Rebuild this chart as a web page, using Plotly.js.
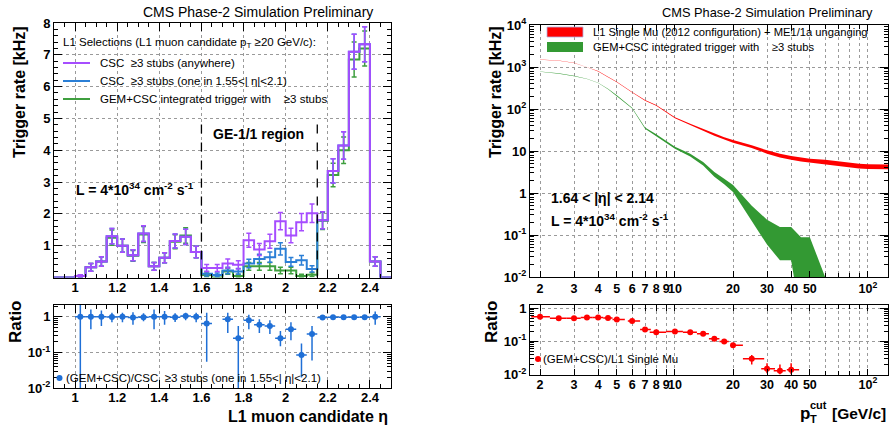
<!DOCTYPE html>
<html><head><meta charset="utf-8">
<script src="https://cdn.plot.ly/plotly-3.0.1.min.js"></script>
<style>html,body{margin:0;padding:0;background:#fff;}#chart{width:893px;height:427px;}</style>
</head><body><div id="chart"></div>
<script>
// ---------------- Left panel: rate vs L1 muon candidate eta (0.05 bins) ----------------
const etaEdges = [0.90,0.95,1.00,1.05,1.10,1.15,1.20,1.25,1.30,1.35,1.40,1.45,1.50,1.55,1.60,1.65,1.70,1.75,1.80,1.85,1.90,1.95,2.00,2.05,2.10,2.15,2.20,2.25,2.30,2.35,2.40,2.45,2.50];
const cscAny    = [0,0,0.05,0.32,0.50,1.30,1.00,0.70,1.38,0.35,0.62,1.15,1.28,0.80,0.30,0.30,0.44,0.40,1.17,0.88,1.14,1.77,1.32,1.74,2.02,1.80,3.35,4.15,7.10,7.33,0.50,0];
const cscAnyErr = [null,null,0.04,0.12,0.15,0.24,0.21,0.17,0.25,0.12,0.16,0.22,0.24,0.18,0.11,0.11,0.14,0.13,0.22,0.19,0.22,0.27,0.23,0.27,0.29,0.27,0.38,0.43,0.55,0.55,0.15,null];
const cscRegion    = [0,0,0.05,0.32,0.50,1.30,1.00,0.70,1.38,0.35,0.62,1.15,1.28,0.80,0.12,0.08,0.22,0.19,0.44,0.58,0.64,0.90,0.49,0.54,0.27,1.80,3.35,4.15,7.10,7.33,0.50,0];
const cscRegionErr = [null,null,0.04,0.12,0.15,0.24,0.21,0.17,0.25,0.12,0.16,0.22,0.24,0.18,0.07,0.06,0.10,0.09,0.13,0.15,0.16,0.19,0.14,0.15,0.10,0.27,0.38,0.43,0.55,0.55,0.15,null];
const gemCsc    = [0,0,0.05,0.32,0.50,1.25,1.00,0.68,1.35,0.35,0.62,1.12,1.32,0.80,0.08,0,0.19,0.05,0.35,0.35,0.35,0.22,0.22,0.05,0.09,1.78,3.22,4.00,6.85,7.20,0.50,0];
const gemCscErr = [null,null,0.04,0.12,0.15,0.24,0.21,0.17,0.25,0.12,0.16,0.22,0.24,0.18,0.06,null,0.09,0.05,0.12,0.12,0.12,0.10,0.10,0.05,0.06,0.27,0.37,0.42,0.55,0.55,0.15,null];
const etaRatio   = [null,null,1.00,1.00,1.00,0.98,1.00,0.95,0.97,1.00,1.00,0.97,1.05,1.00,0.65,null,0.85,0.25,0.80,0.60,0.55,0.25,0.45,0.085,0.33,0.95,0.97,0.97,0.97,0.97,1.00,null];
const etaRatioLo = [null,null,0.001,0.45,0.55,0.70,0.70,0.60,0.75,0.45,0.60,0.72,0.80,0.70,0.055,null,0.35,0.001,0.45,0.35,0.33,0.15,0.22,0.02,0.06,0.85,0.90,0.90,0.92,0.92,0.60,null];
const etaRatioHi = [null,null,2.2,1.6,1.5,1.3,1.3,1.35,1.25,1.6,1.45,1.25,1.3,1.3,1.3,null,1.3,0.55,1.15,0.85,0.80,0.40,0.70,0.18,0.55,1.10,1.05,1.05,1.03,1.03,1.40,null];
const geRegion = [1.6, 2.15];
const etaTickVals = [1,1.2,1.4,1.6,1.8,2,2.2,2.4];

// ---------------- Right panel: rate vs pT cut ----------------
const ptCut    = [2,2.5,3,3.5,4,4.5,5,6,7,8,10,12,14,16,18,20,25,30,35,40,45,50,60,70,80,90,100,120,140];
const rateL1   = [1500,1420,1250,1000,790,580,440,250,160,122,62,43,32,24.5,20,17,12.8,9.5,7.8,6.9,6.3,5.9,5.5,5.0,4.7,4.4,4.3,4.2,4.2];
const rateL1Err= [12,11,10,9,8,7,6,4,3.2,3.0,2.0,1.7,1.5,1.4,1.3,1.2,1.0,0.85,0.75,0.7,0.7,0.65,0.65,0.6,0.6,0.55,0.55,0.55,0.55];
const ptCutGem   = [2,2.5,3,3.5,4,4.5,5,6,7,8,10,12,14,16,18,20,25,30,35,40,45,50,60];
const rateGem    = [780,700,610,520,420,300,210,105,35,24,12,8,5,2.8,1.9,1.3,0.36,0.145,0.09,0.09,0.045,0.045,0.005];
const rateGemErr = [6,6,5,5,4.5,4,3.5,2.5,1.3,1.0,0.7,0.6,0.5,0.35,0.28,0.25,0.14,0.086,0.065,0.065,0.044,0.044,0.005];
const ptRatio      = [2,2.5,3,3.5,4,4.5,5,6,7,8,10,12,14,16,18,20,25,30,35,40];
const ratioPt      = [0.56,0.50,0.50,0.53,0.53,0.51,0.46,0.41,0.23,0.19,0.20,0.19,0.17,0.12,0.10,0.076,0.030,0.015,0.013,0.014];
const ratioPtErrUp = [0.03,0.02,0.02,0.02,0.02,0.02,0.02,0.02,0.015,0.012,0.015,0.012,0.012,0.012,0.01,0.01,0.009,0.007,0.007,0.008];
const ratioPtErrDn = [0.03,0.02,0.02,0.02,0.02,0.02,0.02,0.02,0.015,0.012,0.015,0.012,0.012,0.012,0.01,0.01,0.010,0.004,0.003,0.004];
const ratioPtXLo   = [0.2,0.25,0.25,0.25,0.25,0.25,0.25,0.3,0.4,0.6,1,1,1,1,1,0.5,2.5,2,2.5,2];
const ratioPtXHi   = [0.25,0.25,0.25,0.25,0.25,0.25,0.5,0.6,0.5,1,1,1,1,1,1,2.5,4,3,2.5,4];
const ptTickVals = [2,3,4,5,6,7,8,9,10,20,30,40,50,100];
const ptTickText = ['2','3','4','5','6','7','8','9','10','20','30','40','50','10<sup>2</sup>'];

// ---------------- styling helpers ----------------
const FONT = 'Liberation Sans, Arial, Helvetica, sans-serif';
const W = 893, H = 427;
const px = x => x / W, py = y => 1 - y / H;
const PURPLE = '#a64dff', BLUE = '#2b7fd6', GREEN = '#3f9f3f', RED = '#ff0000', BANDGREEN = '#339933';

const etaCenters = etaEdges.slice(0, -1).map((e, i) => (e + etaEdges[i + 1]) / 2);
const logMinor = (lo, hi) => { const v = []; for (let k = lo; k <= hi; k++) for (let m = 2; m <= 9; m++) v.push(m * Math.pow(10, k)); return v; };

function ax(extra) {
  return Object.assign({
    showline: true, linecolor: '#000', linewidth: 1, mirror: 'allticks',
    ticks: 'inside', ticklen: 8, tickcolor: '#000', tickwidth: 1, zeroline: false, tickangle: 0,
    showgrid: true, gridcolor: '#9a9a9a', griddash: 'dot', gridwidth: 1,
    tickfont: { family: FONT, size: 13, color: '#000', weight: 'bold' }
  }, extra);
}

const traces = [];
function stepHist(vals, errs, color) {
  traces.push({ x: etaEdges, y: vals.concat([vals[vals.length - 1]]), mode: 'lines',
    line: { shape: 'hv', color: color, width: 2 }, xaxis: 'x', yaxis: 'y', hoverinfo: 'skip' });
  traces.push({ x: etaCenters, y: vals.map(v => v > 0 ? v : null), mode: 'markers',
    marker: { size: 2, color: color },
    error_y: { type: 'data', array: errs, color: color, thickness: 1.5, width: 2.5 },
    xaxis: 'x', yaxis: 'y', hoverinfo: 'skip' });
}
stepHist(gemCsc, gemCscErr, GREEN);
stepHist(cscRegion, cscRegionErr, BLUE);
stepHist(cscAny, cscAnyErr, PURPLE);

// left ratio
traces.push({ x: etaCenters, y: etaRatio, mode: 'markers', xaxis: 'x2', yaxis: 'y2',
  marker: { size: 6, color: '#1f6fd6' },
  error_x: { type: 'constant', value: 0.025, color: '#1f6fd6', thickness: 1.5, width: 0 },
  error_y: { type: 'data', symmetric: false,
    array: etaRatio.map((v, i) => v == null ? null : etaRatioHi[i] - v),
    arrayminus: etaRatio.map((v, i) => v == null ? null : v - etaRatioLo[i]),
    color: '#1f6fd6', thickness: 1.5, width: 0 }, hoverinfo: 'skip' });

// right bands
function band(xs, vals, errs, color) {
  const up = vals.map((v, i) => v + errs[i]);
  const dn = vals.map((v, i) => Math.max(v - errs[i], 1e-4));
  traces.push({ x: xs.concat(xs.slice().reverse()), y: up.concat(dn.slice().reverse()),
    mode: 'lines', fill: 'toself', fillcolor: color, line: { width: 0, color: color },
    xaxis: 'x3', yaxis: 'y3', hoverinfo: 'skip' });
}
band(ptCut, rateL1, rateL1Err, RED);
band(ptCutGem, rateGem, rateGemErr, BANDGREEN);

// right ratio
traces.push({ x: ptRatio, y: ratioPt, mode: 'markers', xaxis: 'x4', yaxis: 'y4',
  marker: { size: 6, color: RED },
  error_x: { type: 'data', symmetric: false, array: ratioPtXHi, arrayminus: ratioPtXLo, color: RED, thickness: 1.5, width: 0 },
  error_y: { type: 'data', symmetric: false, array: ratioPtErrUp, arrayminus: ratioPtErrDn, color: RED, thickness: 1.5, width: 0 },
  hoverinfo: 'skip' });

const minorLin = (dt) => ({ dtick: dt, tick0: 0, ticks: 'inside', ticklen: 4, tickcolor: '#000', showgrid: false });
const xL = [px(54), px(391)], xR = [px(530), px(888)];
const ptFont = { family: FONT, size: 12.5, color: '#000', weight: 'bold' };

const layout = {
  width: W, height: H, margin: { l: 0, r: 0, t: 0, b: 0 },
  paper_bgcolor: '#fff', plot_bgcolor: '#fff', showlegend: false,
  font: { family: FONT, color: '#000' },
  xaxis: ax({ domain: xL, range: [0.9, 2.5], anchor: 'y', tickvals: etaTickVals, minor: minorLin(0.05), ticklabelstandoff: -2 }),
  yaxis: ax({ domain: [py(277.5), py(23)], range: [0, 8], anchor: 'x', tickvals: [1,2,3,4,5,6,7,8], minor: minorLin(0.2) }),
  xaxis2: ax({ domain: xL, range: [0.9, 2.5], anchor: 'y2', tickvals: etaTickVals, minor: minorLin(0.05), ticklabelstandoff: -3 }),
  yaxis2: ax({ domain: [py(388.3), py(305)], type: 'log', range: [-2, 0.33], anchor: 'x2',
    tickvals: [0.01, 0.1, 1], ticktext: ['10<sup>-2</sup>', '10<sup>-1</sup>', '1'],
    minor: { tickvals: logMinor(-2, 0), ticks: 'inside', ticklen: 4, tickcolor: '#000', showgrid: false } }),
  xaxis3: ax({ domain: xR, type: 'log', range: [0.249, 2.104], anchor: 'y3', tickvals: ptTickVals, ticktext: ptTickText, ticklen: 6, tickfont: ptFont,
    minor: { tickvals: [60,70,80,90], ticks: 'inside', ticklen: 4, tickcolor: '#000', showgrid: true, gridcolor: '#9a9a9a', griddash: 'dot' } }),
  yaxis3: ax({ domain: [py(277), py(25)], type: 'log', range: [-2, 4], anchor: 'x3',
    tickvals: [0.01, 0.1, 1, 10, 100, 1000, 10000],
    ticktext: ['10<sup>-2</sup>', '10<sup>-1</sup>', '1', '10', '10<sup>2</sup>', '10<sup>3</sup>', '10<sup>4</sup>'],
    minor: { tickvals: logMinor(-2, 3), ticks: 'inside', ticklen: 4, tickcolor: '#000', showgrid: false } }),
  xaxis4: ax({ domain: xR, type: 'log', range: [0.249, 2.104], anchor: 'y4', tickvals: ptTickVals, ticktext: ptTickText, ticklen: 6, tickfont: ptFont, ticklabelstandoff: -2,
    minor: { tickvals: [60,70,80,90], ticks: 'inside', ticklen: 4, tickcolor: '#000', showgrid: true, gridcolor: '#9a9a9a', griddash: 'dot' } }),
  yaxis4: ax({ domain: [py(374.5), py(305)], type: 'log', range: [-2, 0.1], anchor: 'x4',
    tickvals: [0.01, 0.1, 1], ticktext: ['10<sup>-2</sup>', '10<sup>-1</sup>', '1'],
    minor: { tickvals: logMinor(-2, 0), ticks: 'inside', ticklen: 4, tickcolor: '#000', showgrid: false } }),
  shapes: [], annotations: []
};

// GE-1/1 region boundaries
geRegion.forEach(e => layout.shapes.push({ type: 'line', xref: 'x', yref: 'y', x0: e, x1: e, y0: 0, y1: 5,
  line: { color: '#000', width: 1.3, dash: 'dash' } }));

const A = (text, x, y, opt) => layout.annotations.push(Object.assign({
  text: text, xref: 'paper', yref: 'paper', x: px(x), y: py(y), showarrow: false,
  xanchor: 'left', yanchor: 'middle', font: { family: FONT, size: 11.5, color: '#000' }
}, opt || {}));
const bold = (s) => ({ family: FONT, size: s, color: '#000', weight: 'bold' });

// left panel texts
A('CMS Phase-2 Simulation Preliminary', 375, 12, { xanchor: 'right', font: { family: FONT, size: 14, color: '#000' } });
A('L1 Selections (L1 muon candidate p<sub>T</sub> \u226520 GeV/c):', 61, 43);
const legL = [['CSC \u00a0\u22653 stubs (anywhere)', PURPLE, 63], ['CSC \u00a0\u22653 stubs (one in 1.55<| \u03b7|<2.1)', BLUE, 81], ['GEM+CSC integrated trigger with \u00a0\u00a0\u00a0\u22653 stubs', GREEN, 99]];
legL.forEach(([t, c, y]) => {
  A(t, 98, y);
  layout.shapes.push({ type: 'line', xref: 'paper', yref: 'paper', x0: px(63), x1: px(90), y0: py(y), y1: py(y), line: { color: c, width: 2 } });
});
A('GE-1/1 region', 258, 134, { xanchor: 'center', font: bold(14) });
A('L = 4*10<sup>34</sup> cm<sup>-2</sup> s<sup>-1</sup>', 74, 189, { font: bold(14) });
A('Trigger rate [kHz]', 19, 92, { xanchor: 'center', textangle: -90, font: bold(16) });
A('Ratio', 15, 322, { xanchor: 'center', textangle: -90, font: bold(17) });
A('L1 muon candidate \u03b7', 390, 416, { xanchor: 'right', font: bold(16) });
A('(GEM+CSC)/CSC \u00a0\u22653 stubs (one in 1.55<| \u03b7|<2.1)', 64, 378);
layout.shapes.push({ type: 'circle', xref: 'paper', yref: 'paper', x0: px(56.5), x1: px(62.5), y0: py(375), y1: py(381), fillcolor: '#1f6fd6', line: { width: 0 } });

// right panel texts
A('CMS Phase-2 Simulation Preliminary', 875, 12, { xanchor: 'right', font: { family: FONT, size: 12.8, color: '#000' } });
layout.shapes.push({ type: 'rect', xref: 'paper', yref: 'paper', x0: px(547), x1: px(583), y0: py(37), y1: py(27), fillcolor: RED, line: { color: '#b0b0e0', width: 0.8 } });
layout.shapes.push({ type: 'rect', xref: 'paper', yref: 'paper', x0: px(547), x1: px(583), y0: py(52), y1: py(42), fillcolor: BANDGREEN, line: { width: 0 } });
A('L1 Single Mu (2012 configuration) + ME1/1a unganging', 591, 32, { font: { family: FONT, size: 11.2, color: '#000' } });
A('GEM+CSC integrated trigger with \u00a0\u00a0\u00a0\u22653 stubs', 591, 47, { font: { family: FONT, size: 11.2, color: '#000' } });
A('1.64 < |\u03b7| < 2.14', 549, 198, { font: bold(14) });
A('L = 4*10<sup>34</sup> cm<sup>-2</sup> s<sup>-1</sup>', 549, 220, { font: bold(14) });
A('Trigger rate [kHz]', 495, 92, { xanchor: 'center', textangle: -90, font: bold(16) });
A('Ratio', 491, 322, { xanchor: 'center', textangle: -90, font: bold(17) });
A('(GEM+CSC)/L1 Single Mu', 541, 359);
layout.shapes.push({ type: 'circle', xref: 'paper', yref: 'paper', x0: px(535), x1: px(541), y0: py(356), y1: py(362), fillcolor: RED, line: { width: 0 } });
A('p', 798, 413, { font: bold(17) });
A('cut', 808, 405, { font: bold(11) });
A('T', 808, 419, { font: bold(11) });
A('[GeV/c]', 888, 413, { xanchor: 'right', font: bold(15.5) });

Plotly.newPlot('chart', traces, layout, { staticPlot: true, displayModeBar: false });
</script>
</body></html>
